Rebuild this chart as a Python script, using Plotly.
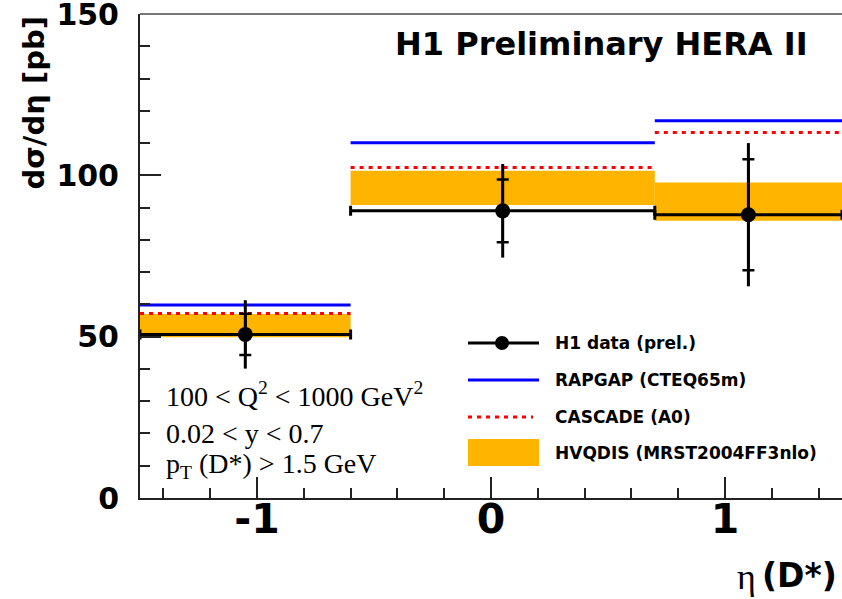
import plotly.graph_objects as go

# D* differential cross section in pseudorapidity, three eta bins
eta_edges = [-1.5, -0.6, 0.7, 1.5]
eta_points = [-1.05, 0.05, 1.10]
h1_xsec = [50.7, 89.0, 87.8]
h1_stat = [6.4, 9.7, 17.2]
h1_total = [10.6, 14.5, 22.2]
rapgap = [59.8, 110.1, 116.9]
cascade = [57.2, 102.4, 113.3]
hvqdis_low = [49.8, 90.8, 85.9]
hvqdis_high = [57.0, 101.4, 97.8]

x_tickvals = [-1, 0, 1]
x_ticktext = ["-1", "0", "1"]
y_tickvals = [0, 50, 100, 150]
y_ticktext = ["0", "50", "100", "150"]

legend_labels = ["H1 data (prel.)", "RAPGAP (CTEQ65m)", "CASCADE (A0)",
                 "HVQDIS (MRST2004FF3nlo)"]
cut_lines = ["100 &lt; Q<sup>2</sup> &lt; 1000 GeV<sup>2</sup>",
             "0.02 &lt; y &lt; 0.7",
             "p<sub>T</sub> (D*) &gt; 1.5 GeV"]

W, H = 842, 599
ML, MR, MT, MB = 140, 0, 14, 101
PW, PH = W - ML - MR, H - MT - MB

BLUE = "#0000ff"
RED = "#ff0000"
ORANGE = "#ffb400"
SANS = "DejaVu Sans"
SERIF = "Liberation Serif"


def px(p):
    return (p - ML) / PW


def py(p):
    return (H - MB - p) / PH


def steps(vals):
    xs, ys = [], []
    for lo, hi, v in zip(eta_edges[:-1], eta_edges[1:], vals):
        xs += [lo, hi, None]
        ys += [v, v, None]
    return xs, ys


lows = eta_edges[:-1]
highs = eta_edges[1:]

fig = go.Figure()

# HVQDIS uncertainty band
fig.add_trace(go.Bar(
    x=[(a + b) / 2 for a, b in zip(lows, highs)],
    width=[b - a for a, b in zip(lows, highs)],
    base=hvqdis_low,
    y=[h - l for h, l in zip(hvqdis_high, hvqdis_low)],
    marker=dict(color=ORANGE, line=dict(width=0)),
    showlegend=False, hoverinfo="skip",
))

# RAPGAP and CASCADE predictions
xs, ys = steps(rapgap)
fig.add_trace(go.Scatter(x=xs, y=ys, mode="lines",
                         line=dict(color=BLUE, width=3), showlegend=False))
xs, ys = steps(cascade)
fig.add_trace(go.Scatter(x=xs, y=ys, mode="lines",
                         line=dict(color=RED, width=3, dash="4px,5px"),
                         showlegend=False))

# H1 data: total error (no caps)
fig.add_trace(go.Scatter(
    x=eta_points, y=h1_xsec, mode="markers",
    marker=dict(size=1, color="black"),
    error_y=dict(type="data", array=h1_total, width=0, thickness=3, color="black"),
    showlegend=False,
))
# H1 data: statistical error with caps and bin width
fig.add_trace(go.Scatter(
    x=eta_points, y=h1_xsec, mode="markers",
    marker=dict(size=15, color="black", symbol="circle"),
    error_y=dict(type="data", array=h1_stat, width=6, thickness=2.5, color="black"),
    error_x=dict(type="data",
                 array=[b - x for b, x in zip(highs, eta_points)],
                 arrayminus=[x - a for a, x in zip(lows, eta_points)],
                 width=5, thickness=3, color="black"),
    showlegend=False,
))

shapes = []
annotations = []

# frame line along the top
shapes.append(dict(type="line", xref="paper", yref="paper", x0=0, x1=1, y0=1, y1=1,
                   line=dict(color="#777777", width=2)))

# legend block
leg_rows = [343, 380, 417, 453]
lx0, lx1, ltext = 468, 539, 553
shapes.append(dict(type="line", xref="paper", yref="paper",
                   x0=px(lx0), x1=px(lx1), y0=py(leg_rows[0]), y1=py(leg_rows[0]),
                   line=dict(color="black", width=3)))
shapes.append(dict(type="circle", xref="paper", yref="paper",
                   x0=px(502 - 7), x1=px(502 + 7),
                   y0=py(leg_rows[0] + 7), y1=py(leg_rows[0] - 7),
                   fillcolor="black", line=dict(color="black", width=0)))
shapes.append(dict(type="line", xref="paper", yref="paper",
                   x0=px(lx0), x1=px(lx1), y0=py(leg_rows[1]), y1=py(leg_rows[1]),
                   line=dict(color=BLUE, width=3)))
shapes.append(dict(type="line", xref="paper", yref="paper",
                   x0=px(lx0), x1=px(533), y0=py(leg_rows[2]), y1=py(leg_rows[2]),
                   line=dict(color=RED, width=3, dash="4px,5px")))
shapes.append(dict(type="rect", xref="paper", yref="paper",
                   x0=px(lx0), x1=px(lx1), y0=py(466), y1=py(439),
                   fillcolor=ORANGE, line=dict(width=0)))
for row, label in zip(leg_rows, legend_labels):
    annotations.append(dict(xref="paper", yref="paper", x=px(ltext), y=py(row),
                            xanchor="left", yanchor="middle", showarrow=False,
                            text=label,
                            font=dict(family=SANS, size=17, color="black", weight="bold")))

# kinematic cuts
for row, txt in zip([394, 433, 465], cut_lines):
    annotations.append(dict(xref="paper", yref="paper", x=px(164), y=py(row),
                            xanchor="left", yanchor="middle", showarrow=False,
                            text=txt,
                            font=dict(family=SERIF, size=28, color="black")))

# header
annotations.append(dict(xref="paper", yref="paper", x=px(601), y=py(44),
                        xanchor="center", yanchor="middle", showarrow=False,
                        text="H1 Preliminary HERA II",
                        font=dict(family=SANS, size=32, color="black", weight="bold")))

# axis titles
annotations.append(dict(xref="paper", yref="paper", x=px(33), y=py(15),
                        xanchor="center", yanchor="top", showarrow=False,
                        textangle=-90, text="dσ/dη [pb]",
                        font=dict(family=SANS, size=29, color="black", weight="bold")))
annotations.append(dict(xref="paper", yref="paper", x=px(839), y=py(575),
                        xanchor="right", yanchor="middle", showarrow=False,
                        text="(D*)",
                        font=dict(family=SANS, size=33, color="black", weight="bold")))
annotations.append(dict(xref="paper", yref="paper", x=px(758), y=py(577),
                        xanchor="right", yanchor="middle", showarrow=False,
                        text="η",
                        font=dict(family=SERIF, size=36, color="black")))

fig.update_layout(
    width=W, height=H, autosize=False,
    margin=dict(l=ML, r=MR, t=MT, b=MB, pad=0, autoexpand=False),
    paper_bgcolor="white", plot_bgcolor="white",
    showlegend=False, barmode="overlay",
    shapes=shapes, annotations=annotations,
    xaxis=dict(range=[-1.5, 1.5], showgrid=False, zeroline=False, automargin=False,
               showline=True, linecolor="#222222", linewidth=2,
               ticks="inside", ticklen=21, tickwidth=2, tickcolor="#222222",
               tickvals=x_tickvals, ticktext=x_ticktext,
               tickfont=dict(family=SANS, size=41, color="black", weight="bold"),
               ticklabelstandoff=-16, ticklabeloverflow="allow",
               minor=dict(dtick=0.2, tick0=0, ticks="inside", ticklen=10,
                          tickwidth=2, tickcolor="#222222", showgrid=False)),
    yaxis=dict(range=[0, 150], showgrid=False, zeroline=False, automargin=False,
               showline=True, linecolor="#222222", linewidth=2,
               ticks="inside", ticklen=21, tickwidth=2, tickcolor="#222222",
               tickvals=y_tickvals, ticktext=y_ticktext,
               tickfont=dict(family=SANS, size=30, color="black", weight="bold"),
               ticklabelstandoff=13, ticklabeloverflow="allow",
               minor=dict(dtick=10, tick0=0, ticks="inside", ticklen=10,
                          tickwidth=2, tickcolor="#222222", showgrid=False)),
)

fig.write_html("out.html")
